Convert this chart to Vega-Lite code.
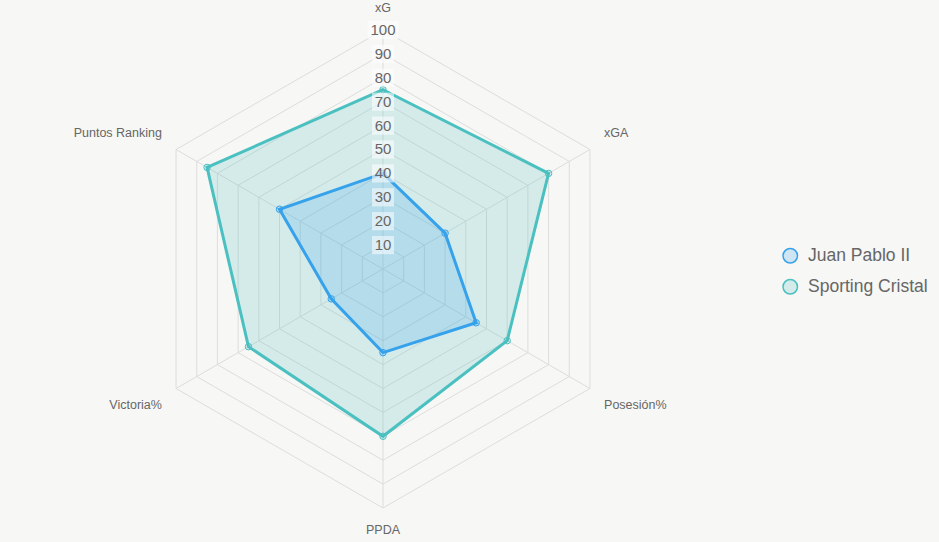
{
  "$schema": "https://vega.github.io/schema/vega-lite/v6.json",
  "width": 939,
  "height": 542,
  "autosize": {"type": "none"},
  "padding": 0,
  "background": "#f7f7f5",
  "config": {
    "view": {"stroke": null},
    "font": "Liberation Sans",
    "legend": {"padding": 0}
  },
  "datasets": {
    "stats": [
      {"team": "Sporting Cristal", "axis": "xG", "idx": 0, "value": 75},
      {"team": "Sporting Cristal", "axis": "xGA", "idx": 1, "value": 80},
      {"team": "Sporting Cristal", "axis": "Posesión%", "idx": 2, "value": 60},
      {"team": "Sporting Cristal", "axis": "PPDA", "idx": 3, "value": 70},
      {"team": "Sporting Cristal", "axis": "Victoria%", "idx": 4, "value": 65},
      {"team": "Sporting Cristal", "axis": "Puntos Ranking", "idx": 5, "value": 85},
      {"team": "Juan Pablo II", "axis": "xG", "idx": 0, "value": 40},
      {"team": "Juan Pablo II", "axis": "xGA", "idx": 1, "value": 30},
      {"team": "Juan Pablo II", "axis": "Posesión%", "idx": 2, "value": 45},
      {"team": "Juan Pablo II", "axis": "PPDA", "idx": 3, "value": 35},
      {"team": "Juan Pablo II", "axis": "Victoria%", "idx": 4, "value": 25},
      {"team": "Juan Pablo II", "axis": "Puntos Ranking", "idx": 5, "value": 50}
    ],
    "axes": [
      {"axis": "xG", "idx": 0, "levels": [10, 20, 30, 40, 50, 60, 70, 80, 90, 100]},
      {"axis": "xGA", "idx": 1, "levels": [10, 20, 30, 40, 50, 60, 70, 80, 90, 100]},
      {"axis": "Posesión%", "idx": 2, "levels": [10, 20, 30, 40, 50, 60, 70, 80, 90, 100]},
      {"axis": "PPDA", "idx": 3, "levels": [10, 20, 30, 40, 50, 60, 70, 80, 90, 100]},
      {"axis": "Victoria%", "idx": 4, "levels": [10, 20, 30, 40, 50, 60, 70, 80, 90, 100]},
      {"axis": "Puntos Ranking", "idx": 5, "levels": [10, 20, 30, 40, 50, 60, 70, 80, 90, 100]}
    ],
    "ticks": [
      {"tick": 10}, {"tick": 20}, {"tick": 30}, {"tick": 40}, {"tick": 50},
      {"tick": 60}, {"tick": 70}, {"tick": 80}, {"tick": 90}, {"tick": 100}
    ]
  },
  "layer": [
    {
      "data": {"name": "axes"},
      "transform": [
        {"flatten": ["levels"]},
        {"calculate": "datum.idx * PI / 3", "as": "a"},
        {"calculate": "datum.levels * sin(datum.a)", "as": "gx"},
        {"calculate": "datum.levels * cos(datum.a)", "as": "gy"}
      ],
      "mark": {"type": "line", "interpolate": "linear-closed", "stroke": "#dddddd", "strokeWidth": 1},
      "encoding": {
        "x": {"field": "gx", "type": "quantitative", "scale": {"domain": [-160.25, 232.64], "nice": false, "zero": false}, "axis": null},
        "y": {"field": "gy", "type": "quantitative", "scale": {"domain": [-114.23, 112.55], "nice": false, "zero": false}, "axis": null},
        "detail": {"field": "levels", "type": "nominal"},
        "order": {"field": "idx", "type": "quantitative"}
      }
    },
    {
      "data": {"name": "axes"},
      "transform": [
        {"calculate": "datum.idx * PI / 3", "as": "a"},
        {"calculate": "100 * sin(datum.a)", "as": "sx"},
        {"calculate": "100 * cos(datum.a)", "as": "sy"}
      ],
      "mark": {"type": "rule", "stroke": "#dddddd", "strokeWidth": 1},
      "encoding": {
        "x": {"field": "sx", "type": "quantitative"},
        "y": {"field": "sy", "type": "quantitative"},
        "x2": {"datum": 0},
        "y2": {"datum": 0}
      }
    },
    {
      "data": {"name": "stats"},
      "transform": [
        {"calculate": "datum.idx * PI / 3", "as": "a"},
        {"calculate": "datum.value * sin(datum.a)", "as": "px"},
        {"calculate": "datum.value * cos(datum.a)", "as": "py"}
      ],
      "mark": {"type": "line", "interpolate": "linear-closed", "strokeWidth": 3},
      "encoding": {
        "x": {"field": "px", "type": "quantitative"},
        "y": {"field": "py", "type": "quantitative"},
        "order": {"field": "idx", "type": "quantitative"},
        "detail": {"field": "team", "type": "nominal"},
        "stroke": {
          "field": "team", "type": "nominal",
          "scale": {"domain": ["Juan Pablo II", "Sporting Cristal"], "range": ["#36a2eb", "#4bc0c0"]},
          "legend": {
            "title": null, "orient": "none", "legendX": 781.5, "legendY": 247,
            "symbolType": "circle", "symbolSize": 210, "symbolStrokeWidth": 1.5,
            "labelFontSize": 17.5, "labelColor": "#666666", "labelOffset": 9,
            "rowPadding": 10, "labelFont": "Liberation Sans"
          }
        },
        "fill": {
          "field": "team", "type": "nominal",
          "scale": {"domain": ["Juan Pablo II", "Sporting Cristal"], "range": ["rgba(54,162,235,0.2)", "rgba(75,192,192,0.2)"]},
          "legend": {
            "title": null, "orient": "none", "legendX": 781.5, "legendY": 247,
            "symbolType": "circle", "symbolSize": 210, "symbolStrokeWidth": 1.5,
            "labelFontSize": 17.5, "labelColor": "#666666", "labelOffset": 9,
            "rowPadding": 10, "labelFont": "Liberation Sans"
          }
        }
      }
    },
    {
      "data": {"name": "stats"},
      "transform": [
        {"calculate": "datum.idx * PI / 3", "as": "a"},
        {"calculate": "datum.value * sin(datum.a)", "as": "px"},
        {"calculate": "datum.value * cos(datum.a)", "as": "py"}
      ],
      "mark": {"type": "point", "shape": "circle", "filled": true, "size": 42, "strokeWidth": 1, "opacity": 1},
      "encoding": {
        "x": {"field": "px", "type": "quantitative"},
        "y": {"field": "py", "type": "quantitative"},
        "stroke": {"field": "team", "type": "nominal"},
        "fill": {"field": "team", "type": "nominal"}
      }
    },
    {
      "data": {"name": "ticks"},
      "transform": [
        {"calculate": "datum.tick == 100 ? 6.4 : 4.6", "as": "hw"},
        {"calculate": "-datum.hw", "as": "bx"},
        {"calculate": "datum.tick - 3.8", "as": "by"},
        {"calculate": "datum.tick + 3.8", "as": "by2"}
      ],
      "mark": {"type": "rect", "fill": "#ffffff", "opacity": 0.55},
      "encoding": {
        "x": {"field": "bx", "type": "quantitative"},
        "x2": {"field": "hw"},
        "y": {"field": "by", "type": "quantitative"},
        "y2": {"field": "by2"}
      }
    },
    {
      "data": {"name": "ticks"},
      "mark": {"type": "text", "fontSize": 15, "fill": "#666666", "baseline": "middle", "align": "center", "font": "Liberation Sans"},
      "encoding": {
        "x": {"datum": 0, "type": "quantitative"},
        "y": {"field": "tick", "type": "quantitative"},
        "text": {"field": "tick", "type": "quantitative"}
      }
    },
    {
      "data": {"name": "axes"},
      "transform": [
        {"calculate": "datum.idx * PI / 3", "as": "a"},
        {"calculate": "106.8 * sin(datum.a)", "as": "lx"},
        {"calculate": "104 * cos(datum.a) + (cos(datum.a) > 0 ? 5 : -5)", "as": "ly"},
        {"filter": "abs(sin(datum.a)) < 0.1"}
      ],
      "mark": {"type": "text", "fontSize": 12.5, "fill": "#666666", "baseline": "middle", "align": "center", "font": "Liberation Sans"},
      "encoding": {
        "x": {"field": "lx", "type": "quantitative"},
        "y": {"field": "ly", "type": "quantitative"},
        "text": {"field": "axis"}
      }
    },
    {
      "data": {"name": "axes"},
      "transform": [
        {"calculate": "datum.idx * PI / 3", "as": "a"},
        {"calculate": "106.8 * sin(datum.a)", "as": "lx"},
        {"calculate": "104 * cos(datum.a) + (cos(datum.a) > 0 ? 5 : -5)", "as": "ly"},
        {"filter": "sin(datum.a) > 0.1"}
      ],
      "mark": {"type": "text", "fontSize": 12.5, "fill": "#666666", "baseline": "middle", "align": "left", "font": "Liberation Sans"},
      "encoding": {
        "x": {"field": "lx", "type": "quantitative"},
        "y": {"field": "ly", "type": "quantitative"},
        "text": {"field": "axis"}
      }
    },
    {
      "data": {"name": "axes"},
      "transform": [
        {"calculate": "datum.idx * PI / 3", "as": "a"},
        {"calculate": "106.8 * sin(datum.a)", "as": "lx"},
        {"calculate": "104 * cos(datum.a) + (cos(datum.a) > 0 ? 5 : -5)", "as": "ly"},
        {"filter": "sin(datum.a) < -0.1"}
      ],
      "mark": {"type": "text", "fontSize": 12.5, "fill": "#666666", "baseline": "middle", "align": "right", "font": "Liberation Sans"},
      "encoding": {
        "x": {"field": "lx", "type": "quantitative"},
        "y": {"field": "ly", "type": "quantitative"},
        "text": {"field": "axis"}
      }
    }
  ]
}
